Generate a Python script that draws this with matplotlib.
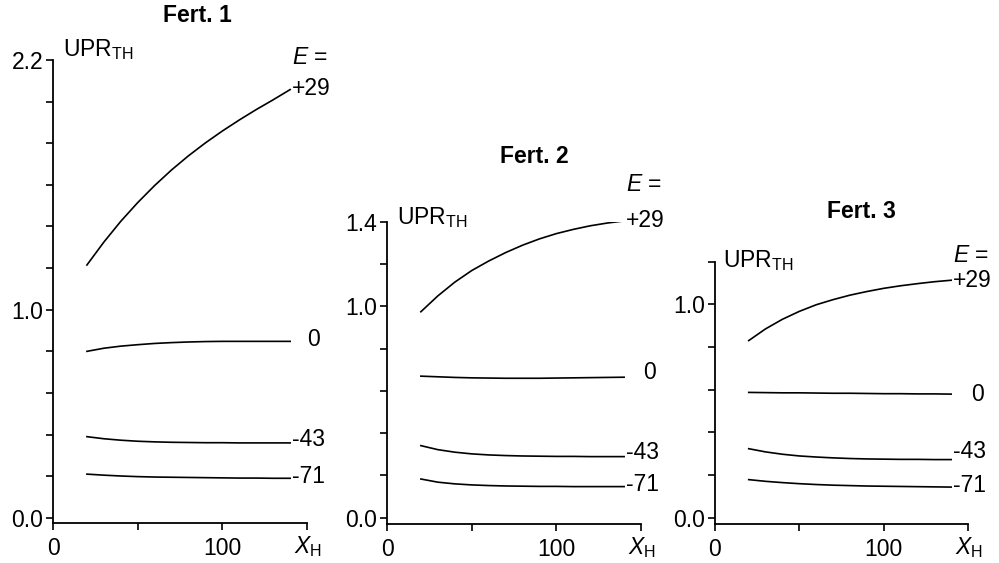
import matplotlib
matplotlib.use("Agg")
import matplotlib.pyplot as plt
from matplotlib.ticker import FixedLocator, FixedFormatter

plt.rcParams['font.family'] = ['Liberation Sans', 'DejaVu Sans']
plt.rcParams['mathtext.fontset'] = 'custom'
plt.rcParams['mathtext.rm'] = 'Liberation Sans'
plt.rcParams['mathtext.it'] = 'Liberation Sans:italic'

FS = 16.5

# x grid shared by all curves (X_H)
x_h = [20, 30, 40, 50, 60, 70, 80, 90, 100, 110, 120, 130, 140]
e_labels = ['+29', '0', '-43', '-71']

# Fert. 1
f1_p29 = [1.215, 1.325, 1.425, 1.515, 1.597, 1.672, 1.74, 1.802, 1.859, 1.912, 1.962, 2.009, 2.058]
f1_0 = [0.80, 0.815, 0.825, 0.832, 0.838, 0.842, 0.845, 0.847, 0.848, 0.848, 0.848, 0.848, 0.848]
f1_m43 = [0.39, 0.38, 0.373, 0.368, 0.365, 0.363, 0.362, 0.361, 0.361, 0.36, 0.36, 0.36, 0.36]
f1_m71 = [0.21, 0.205, 0.201, 0.198, 0.196, 0.195, 0.194, 0.193, 0.192, 0.191, 0.191, 0.19, 0.19]

# Fert. 2
f2_p29 = [0.975, 1.05, 1.115, 1.17, 1.215, 1.255, 1.29, 1.32, 1.345, 1.365, 1.382, 1.395, 1.405]
f2_0 = [0.67, 0.667, 0.664, 0.662, 0.661, 0.66, 0.66, 0.66, 0.661, 0.662, 0.663, 0.664, 0.665]
f2_m43 = [0.341, 0.322, 0.31, 0.302, 0.297, 0.294, 0.292, 0.291, 0.29, 0.29, 0.289, 0.289, 0.289]
f2_m71 = [0.183, 0.168, 0.16, 0.155, 0.152, 0.15, 0.149, 0.148, 0.148, 0.147, 0.147, 0.147, 0.147]

# Fert. 3
f3_p29 = [0.83, 0.885, 0.93, 0.967, 0.998, 1.022, 1.043, 1.06, 1.075, 1.087, 1.097, 1.106, 1.113]
f3_0 = [0.587, 0.586, 0.585, 0.585, 0.584, 0.583, 0.583, 0.582, 0.581, 0.581, 0.58, 0.58, 0.579]
f3_m43 = [0.323, 0.308, 0.297, 0.289, 0.284, 0.28, 0.277, 0.275, 0.274, 0.273, 0.273, 0.272, 0.272]
f3_m71 = [0.178, 0.17, 0.164, 0.159, 0.155, 0.152, 0.15, 0.148, 0.147, 0.146, 0.145, 0.144, 0.143]

panels = [
    dict(title='Fert. 1', curves=[f1_p29, f1_0, f1_m43, f1_m71], ymax=2.2,
         yticks=[0.0, 0.2, 0.4, 0.6, 0.8, 1.0, 1.2, 1.4, 1.6, 1.8, 2.0, 2.2],
         ylabels={0.0: '0.0', 1.0: '1.0', 2.2: '2.2'},
         rect=[0.0531, 0.0710, 0.2543, 0.8224], ymin=-0.025,
         title_xy=(85, 2.415), upr_xy=(6, 2.25), e_y=2.214,
         lab_pos=[(141, 2.065), (150, 0.855), (141, 0.375), (141, 0.197)]),
    dict(title='Fert. 2', curves=[f2_p29, f2_0, f2_m43, f2_m71], ymax=1.4,
         yticks=[0.0, 0.2, 0.4, 0.6, 0.8, 1.0, 1.2, 1.4],
         ylabels={0.0: '0.0', 1.0: '1.0', 1.4: '1.4'},
         rect=[0.3874, 0.0693, 0.2543, 0.5364], ymin=-0.03,
         title_xy=(87, 1.71), upr_xy=(6, 1.42), e_y=1.577,
         lab_pos=[(141, 1.405), (151, 0.686), (141, 0.31), (141, 0.155)]),
    dict(title='Fert. 3', curves=[f3_p29, f3_0, f3_m43, f3_m71], ymax=1.2,
         yticks=[0.0, 0.2, 0.4, 0.6, 0.8, 1.0, 1.2],
         ylabels={0.0: '0.0', 1.0: '1.0'},
         rect=[0.7157, 0.0693, 0.2533, 0.4659], ymin=-0.03,
         title_xy=(87, 1.437), upr_xy=(5, 1.205), e_y=1.23,
         lab_pos=[(141, 1.112), (152, 0.579), (141, 0.31), (141, 0.15)]),
]

fig = plt.figure(figsize=(9.99, 5.63), dpi=100)

for p in panels:
    ax = fig.add_axes(p['rect'])
    for ys in p['curves']:
        ax.plot(x_h, ys, color='black', lw=1.2)
    ax.set_xlim(0, 150)
    ax.set_ylim(p['ymin'], p['ymax'])
    for s in ['top', 'right']:
        ax.spines[s].set_visible(False)
    for s in ['left', 'bottom']:
        ax.spines[s].set_linewidth(1.3)
    ax.xaxis.set_major_locator(FixedLocator([0, 50, 100, 150]))
    ax.xaxis.set_major_formatter(FixedFormatter(['0', '', '100', '']))
    ax.yaxis.set_major_locator(FixedLocator(p['yticks']))
    ax.yaxis.set_major_formatter(FixedFormatter([p['ylabels'].get(t, '') for t in p['yticks']]))
    ax.tick_params(axis='both', direction='out', length=5, width=1.2, labelsize=FS)
    ax.tick_params(axis='x', pad=5)
    ax.tick_params(axis='y', pad=2)

    ax.text(p['title_xy'][0], p['title_xy'][1], p['title'], fontsize=FS,
            fontweight='bold', ha='center', va='center', clip_on=False)
    ax.text(p['upr_xy'][0], p['upr_xy'][1], r'UPR$_{\mathrm{TH}}$', fontsize=FS,
            ha='left', va='center', clip_on=False)
    ax.text(151.5, p['e_y'], r'$E$ =', fontsize=FS, ha='center', va='center', clip_on=False)
    for lab, (lx, ly) in zip(e_labels, p['lab_pos']):
        ax.text(lx, ly, lab, fontsize=FS, ha='left', va='center', clip_on=False)
    ax.text(142, -0.14, r'$X_{\mathrm{H}}$', fontsize=FS, ha='left', va='center',
            clip_on=False)

fig.savefig('out.png', dpi=100)
